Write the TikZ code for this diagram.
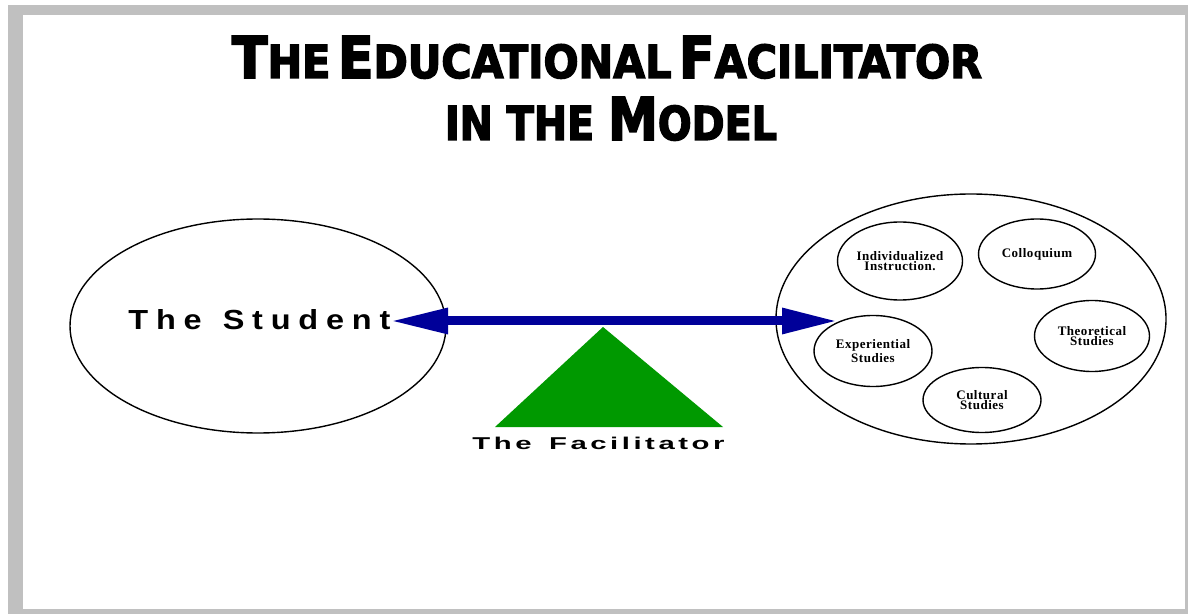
\documentclass[tikz,border=0pt]{standalone}
\usepackage{fontspec}
\usetikzlibrary{arrows.meta,shapes.geometric}
\newfontfamily\titlefont[FakeBold=3]{DejaVu Sans Condensed Bold}
\newfontfamily\namefont[LetterSpace=24]{Liberation Sans}
\newfontfamily\pivotfont[LetterSpace=12]{Liberation Sans}
\newfontfamily\topicfont[LetterSpace=4]{Liberation Serif}
\definecolor{framegray}{RGB}{192,192,192}
\definecolor{beamblue}{RGB}{0,0,153}
\definecolor{pivotgreen}{RGB}{0,153,0}
\newcommand{\tcap}[1]{{\fontsize{24}{24}\selectfont #1}}
\newcommand{\tsml}[1]{{\fontsize{19}{19}\selectfont #1}}
\tikzset{
  ring/.style={draw,ellipse,line width=0.7pt,inner sep=0pt},
  topic/.style={ring,align=center,font=\topicfont\bfseries\fontsize{6.5}{5.2}\selectfont},
}
\begin{document}
\begin{tikzpicture}[x=0.5pt,y=-0.5pt]
\useasboundingbox (0,0) rectangle (1188,614);
\fill[framegray] (8,5) rectangle (1188,614);
\fill[white] (23,15) rectangle (1185,609);
%
\node (title)    at (607,78)  [anchor=base,inner sep=0pt] {\resizebox{375pt}{21pt}{\titlefont\tcap{T}\tsml{HE} \tcap{E}\tsml{DUCATIONAL} \tcap{F}\tsml{ACILITATOR}}};
\node (subtitle) at (611,140) [anchor=base,inner sep=0pt] {\resizebox{166pt}{21.5pt}{\titlefont\tsml{IN THE }\tcap{M}\tsml{ODEL}}};
%
\node (student)     at (258,326) [ring,minimum width=188pt,minimum height=107pt] {};
\node (studentname) at (128,329) [anchor=base west,inner sep=0pt] {\resizebox{131pt}{10pt}{\namefont\bfseries The\hspace{0.65em}Student}};
%
\node (model)  at (971,319)  [ring,minimum width=195pt,minimum height=125pt] {};
\node (indiv)  at (900,261)  [topic,minimum width=62.5pt,minimum height=39pt] {Individualized\\Instruction.};
\node (colloq) at (1037,254) [topic,minimum width=58.5pt,minimum height=35pt] {Colloquium};
\node (theor)  at (1092,336) [topic,minimum width=57.5pt,minimum height=35.5pt] {Theoretical\\Studies};
\node (exper)  at (873,351)  [topic,minimum width=59pt,minimum height=35.5pt] {Experiential\\Studies};
\node (cult)   at (982,400)  [topic,minimum width=59pt,minimum height=32.5pt] {Cultural\\Studies};
%
\coordinate (apex) at (603,327);
\fill[pivotgreen] (apex) -- (723,427) -- (495,427) -- cycle;
\node (facilitator) at (472,449) [anchor=base west,inner sep=0pt] {\resizebox{126pt}{6.2pt}{\pivotfont\bfseries The\hspace{0.6em}Facilitator}};
%
\coordinate (lefttip)  at (390,321);
\coordinate (righttip) at (838,321);
\draw[beamblue,line width=4.5pt,{Triangle[length=29pt,width=12pt]}-{Triangle[length=28pt,width=12pt]}] (lefttip) -- (righttip);
\end{tikzpicture}
\end{document}
